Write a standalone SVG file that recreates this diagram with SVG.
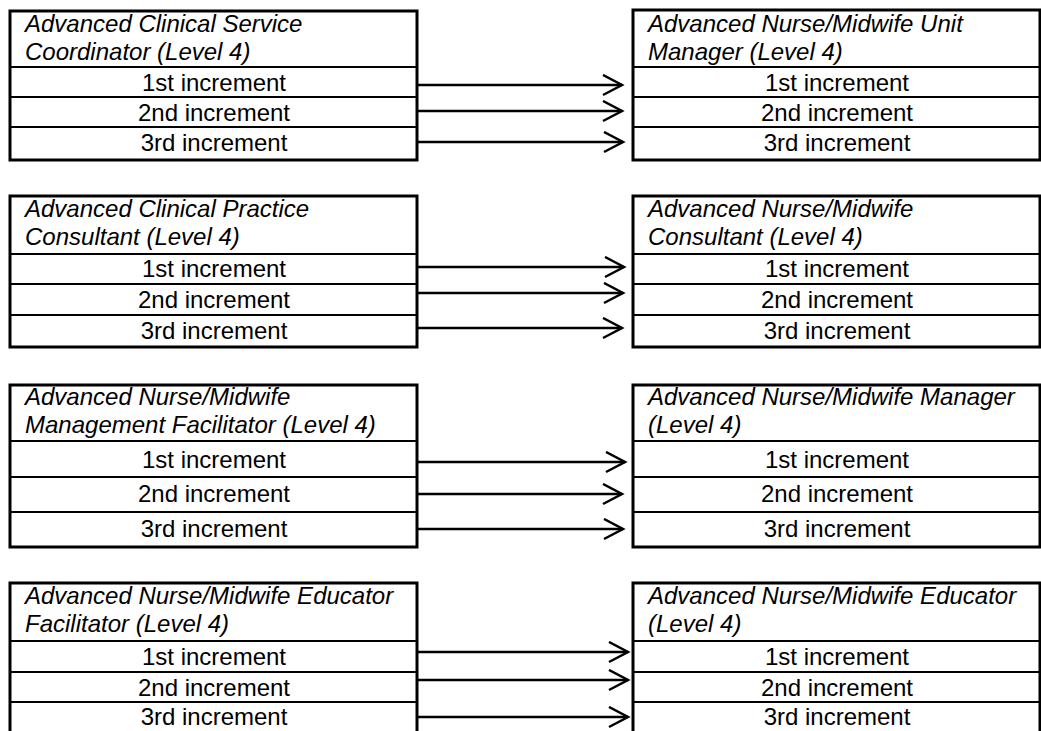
<svg xmlns="http://www.w3.org/2000/svg" width="1041" height="731" viewBox="0 0 1041 731">
<style>
.box{fill:#fff;stroke:#000;stroke-width:3}
.sep{stroke:#000;stroke-width:2}
.hd{font-family:"Liberation Sans",Arial,sans-serif;font-size:24px;font-style:italic;fill:#000}
.inc{font-family:"Liberation Sans",Arial,sans-serif;font-size:24px;fill:#000;text-anchor:middle}
.arr{stroke:#000;stroke-width:2.5;fill:none}
</style>
<defs>
<marker id="chev" markerUnits="userSpaceOnUse" markerWidth="24" markerHeight="24" refX="20" refY="11" orient="auto" viewBox="0 0 24 24">
<path d="M1,1 L20,11 L1,21" fill="none" stroke="#000" stroke-width="2.5"/>
</marker>
</defs>
<rect width="1041" height="731" fill="#fff"/>

<g id="acsc">
<rect class="box" x="10" y="11" width="407" height="149"/>
<line class="sep" x1="10" y1="67" x2="417" y2="67"/>
<line class="sep" x1="10" y1="97" x2="417" y2="97"/>
<line class="sep" x1="10" y1="127" x2="417" y2="127"/>
<text class="hd" x="25" y="32">Advanced Clinical Service</text>
<text class="hd" x="25" y="60">Coordinator (Level 4)</text>
<text class="inc" x="214" y="91">1st increment</text>
<text class="inc" x="214" y="121">2nd increment</text>
<text class="inc" x="214" y="151">3rd increment</text>
</g>
<g id="anmum">
<rect class="box" x="633" y="10" width="407" height="150"/>
<line class="sep" x1="633" y1="67" x2="1040" y2="67"/>
<line class="sep" x1="633" y1="97" x2="1040" y2="97"/>
<line class="sep" x1="633" y1="127" x2="1040" y2="127"/>
<text class="hd" x="648" y="32">Advanced Nurse/Midwife Unit</text>
<text class="hd" x="648" y="60">Manager (Level 4)</text>
<text class="inc" x="837" y="91">1st increment</text>
<text class="inc" x="837" y="121">2nd increment</text>
<text class="inc" x="837" y="151">3rd increment</text>
</g>

<g id="acpc">
<rect class="box" x="10" y="196" width="407" height="151"/>
<line class="sep" x1="10" y1="254" x2="417" y2="254"/>
<line class="sep" x1="10" y1="284" x2="417" y2="284"/>
<line class="sep" x1="10" y1="315" x2="417" y2="315"/>
<text class="hd" x="25" y="217">Advanced Clinical Practice</text>
<text class="hd" x="25" y="245">Consultant (Level 4)</text>
<text class="inc" x="214" y="277">1st increment</text>
<text class="inc" x="214" y="308">2nd increment</text>
<text class="inc" x="214" y="339">3rd increment</text>
</g>
<g id="anmc">
<rect class="box" x="633" y="196" width="407" height="151"/>
<line class="sep" x1="633" y1="254" x2="1040" y2="254"/>
<line class="sep" x1="633" y1="284" x2="1040" y2="284"/>
<line class="sep" x1="633" y1="315" x2="1040" y2="315"/>
<text class="hd" x="648" y="217">Advanced Nurse/Midwife</text>
<text class="hd" x="648" y="245">Consultant (Level 4)</text>
<text class="inc" x="837" y="277">1st increment</text>
<text class="inc" x="837" y="308">2nd increment</text>
<text class="inc" x="837" y="339">3rd increment</text>
</g>

<g id="anmmf">
<rect class="box" x="10" y="385" width="407" height="162"/>
<line class="sep" x1="10" y1="441" x2="417" y2="441"/>
<line class="sep" x1="10" y1="477" x2="417" y2="477"/>
<line class="sep" x1="10" y1="512" x2="417" y2="512"/>
<text class="hd" x="25" y="405">Advanced Nurse/Midwife</text>
<text class="hd" x="25" y="433">Management Facilitator (Level 4)</text>
<text class="inc" x="214" y="468">1st increment</text>
<text class="inc" x="214" y="502">2nd increment</text>
<text class="inc" x="214" y="537">3rd increment</text>
</g>
<g id="anmm">
<rect class="box" x="633" y="385" width="407" height="162"/>
<line class="sep" x1="633" y1="441" x2="1040" y2="441"/>
<line class="sep" x1="633" y1="477" x2="1040" y2="477"/>
<line class="sep" x1="633" y1="512" x2="1040" y2="512"/>
<text class="hd" x="648" y="405">Advanced Nurse/Midwife Manager</text>
<text class="hd" x="648" y="433">(Level 4)</text>
<text class="inc" x="837" y="468">1st increment</text>
<text class="inc" x="837" y="502">2nd increment</text>
<text class="inc" x="837" y="537">3rd increment</text>
</g>

<g id="anmef">
<rect class="box" x="10" y="583" width="407" height="152"/>
<line class="sep" x1="10" y1="641" x2="417" y2="641"/>
<line class="sep" x1="10" y1="672" x2="417" y2="672"/>
<line class="sep" x1="10" y1="702" x2="417" y2="702"/>
<text class="hd" x="25" y="604">Advanced Nurse/Midwife Educator</text>
<text class="hd" x="25" y="632">Facilitator (Level 4)</text>
<text class="inc" x="214" y="665">1st increment</text>
<text class="inc" x="214" y="696">2nd increment</text>
<text class="inc" x="214" y="725">3rd increment</text>
</g>
<g id="anme">
<rect class="box" x="633" y="583" width="407" height="152"/>
<line class="sep" x1="633" y1="641" x2="1040" y2="641"/>
<line class="sep" x1="633" y1="672" x2="1040" y2="672"/>
<line class="sep" x1="633" y1="702" x2="1040" y2="702"/>
<text class="hd" x="648" y="604">Advanced Nurse/Midwife Educator</text>
<text class="hd" x="648" y="632">(Level 4)</text>
<text class="inc" x="837" y="665">1st increment</text>
<text class="inc" x="837" y="696">2nd increment</text>
<text class="inc" x="837" y="725">3rd increment</text>
</g>

<g id="connectors">
<line class="arr" x1="417" y1="85" x2="622" y2="85" marker-end="url(#chev)"/>
<line class="arr" x1="417" y1="111" x2="622" y2="111" marker-end="url(#chev)"/>
<line class="arr" x1="417" y1="142" x2="623" y2="142" marker-end="url(#chev)"/>
<line class="arr" x1="417" y1="267" x2="624" y2="267" marker-end="url(#chev)"/>
<line class="arr" x1="417" y1="293" x2="623" y2="293" marker-end="url(#chev)"/>
<line class="arr" x1="417" y1="328" x2="622" y2="328" marker-end="url(#chev)"/>
<line class="arr" x1="417" y1="462" x2="625" y2="462" marker-end="url(#chev)"/>
<line class="arr" x1="417" y1="494" x2="622" y2="494" marker-end="url(#chev)"/>
<line class="arr" x1="417" y1="529" x2="623" y2="529" marker-end="url(#chev)"/>
<line class="arr" x1="417" y1="652" x2="628" y2="652" marker-end="url(#chev)"/>
<line class="arr" x1="417" y1="680" x2="628" y2="680" marker-end="url(#chev)"/>
<line class="arr" x1="417" y1="717" x2="628" y2="717" marker-end="url(#chev)"/>
</g>
</svg>
